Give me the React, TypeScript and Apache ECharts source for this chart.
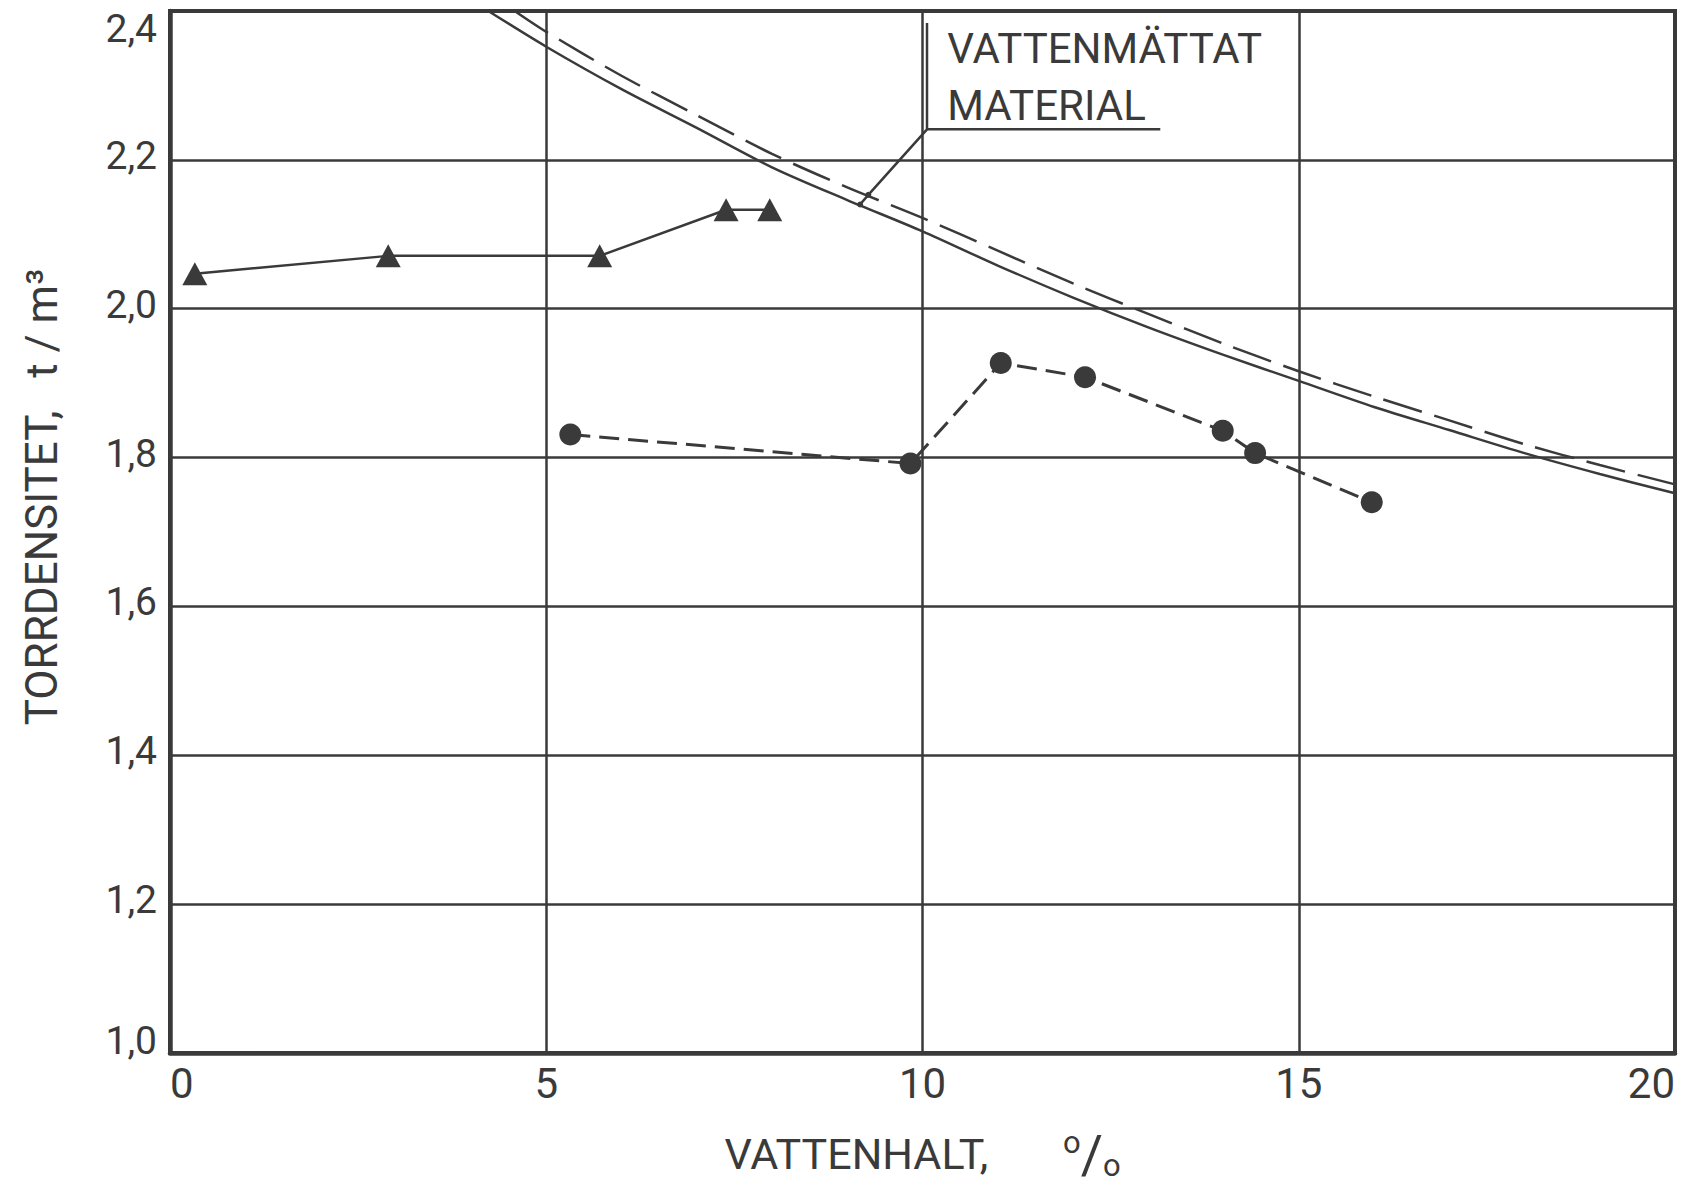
import React, { useEffect, useRef } from 'react';
import * as echarts from 'echarts';

// ---- data ----
const xMin = 0;
const xMax = 20;
const xInterval = 5;
const yMin = 1.0;
const yMax = 2.4;
const yInterval = 0.2;

// triangles, solid line
const triangleData: number[][] = [
  [0.33, 2.047],
  [2.9, 2.071],
  [5.71, 2.071],
  [7.39, 2.133],
  [7.97, 2.133],
];

// circles, dashed line
const circleData: number[][] = [
  [5.32, 1.831],
  [9.84, 1.792],
  [11.04, 1.927],
  [12.16, 1.908],
  [13.99, 1.836],
  [14.42, 1.806],
  [15.97, 1.74],
];

// water-saturated material curves
const satSolid: number[][] = [
  [4.23, 2.4],
  [5, 2.352],
  [6, 2.295],
  [7, 2.243],
  [8, 2.19],
  [9, 2.146],
  [10, 2.104],
  [11, 2.058],
  [12, 2.015],
  [13, 1.975],
  [14, 1.938],
  [15, 1.903],
  [16, 1.868],
  [17, 1.837],
  [18, 1.806],
  [19, 1.778],
  [20, 1.752],
];
const satDashed: number[][] = [
  [4.58, 2.4],
  [5, 2.372],
  [6, 2.313],
  [7, 2.26],
  [8, 2.208],
  [9, 2.163],
  [10, 2.122],
  [11, 2.078],
  [12, 2.034],
  [13, 1.993],
  [14, 1.953],
  [15, 1.916],
  [16, 1.882],
  [17, 1.85],
  [18, 1.818],
  [19, 1.79],
  [20, 1.764],
];

// annotation "VATTENMÄTTAT MATERIAL"
const annoLines = ['VATTENMÄTTAT', 'MATERIAL'];
const annoTextPos: number[][] = [
  [10.33, 2.35],
  [10.33, 2.273],
];
const annoBracket: number[][] = [
  [10.06, 2.384],
  [10.06, 2.241],
  [13.16, 2.241],
];
const annoLeader: number[][] = [
  [10.06, 2.241],
  [9.28, 2.153],
  [9.17, 2.14],
];

const xTitle = 'VATTENHALT,';
const yTitle = 'TORRDENSITET,   t / m³';

const INK = '#3a3a3a';
const FONT = 'Roboto, "DejaVu Sans", sans-serif';

export default function App() {
  const ref = useRef<HTMLDivElement>(null);

  useEffect(() => {
    document.body.style.margin = '0';
    if (!ref.current) return;
    const chart = echarts.init(ref.current, undefined, { renderer: 'svg' });

    const option: any = {
      animation: false,
      backgroundColor: '#ffffff',
      textStyle: { fontFamily: FONT, color: INK },
      grid: {
        left: 170,
        right: 22,
        top: 11,
        bottom: 122,
        show: true,
        borderColor: INK,
        borderWidth: 4,
        containLabel: false,
      },
      xAxis: {
        type: 'value',
        min: xMin,
        max: xMax,
        interval: xInterval,
        axisLine: { show: true, lineStyle: { color: INK, width: 4.5 } },
        axisTick: { show: false },
        splitLine: { show: true, lineStyle: { color: INK, width: 2.5 } },
        axisLabel: {
          color: INK,
          fontFamily: FONT,
          fontSize: 42,
          margin: 9,
          alignMinLabel: 'left',
          alignMaxLabel: 'right',
        },
        name: xTitle + '       {sup|o}{sl|/}{sub|o}',
        nameLocation: 'middle',
        nameGap: 74,
        nameTextStyle: {
          color: INK,
          fontFamily: FONT,
          fontSize: 43,
          rich: {
            sup: { fontSize: 31, color: INK, fontFamily: FONT, verticalAlign: 'top', lineHeight: 50 },
            sl: { fontSize: 54, color: INK, fontFamily: FONT },
            sub: { fontSize: 31, color: INK, fontFamily: FONT, verticalAlign: 'bottom', lineHeight: 42 },
          },
        },
      },
      yAxis: {
        type: 'value',
        min: yMin,
        max: yMax,
        interval: yInterval,
        axisLine: { show: true, lineStyle: { color: INK, width: 4.5 } },
        axisTick: { show: false },
        splitLine: { show: true, lineStyle: { color: INK, width: 2.5 } },
        axisLabel: {
          color: INK,
          fontFamily: FONT,
          fontSize: 39,
          margin: 13,
          formatter: (v: number) => {
            const s = v.toFixed(1).replace('.', ',');
            if (Math.abs(v - yMax) < 1e-6) return '{top|' + s + '}';
            if (Math.abs(v - yMin) < 1e-6) return '{bot|' + s + '}';
            return '{mid|' + s + '}';
          },
          rich: {
            top: { fontSize: 39, color: INK, fontFamily: FONT, padding: [36, 0, 0, 0] },
            bot: { fontSize: 39, color: INK, fontFamily: FONT, padding: [0, 0, 24, 0] },
            mid: { fontSize: 39, color: INK, fontFamily: FONT, padding: [0, 0, 8, 0] },
          },
        },
        name: yTitle,
        nameLocation: 'middle',
        nameRotate: 90,
        nameGap: 106,
        nameTextStyle: {
          color: INK,
          fontFamily: FONT,
          fontSize: 44,
          padding: [0, 0, 0, 70],
        },
      },
      series: [
        {
          name: 'triangles',
          type: 'line',
          data: triangleData,
          symbol: 'triangle',
          symbolSize: [25, 23],
          itemStyle: { color: INK },
          lineStyle: { color: INK, width: 2.5 },
          z: 5,
        },
        {
          name: 'circles',
          type: 'line',
          data: circleData,
          symbol: 'circle',
          symbolSize: 22,
          itemStyle: { color: INK },
          lineStyle: { color: INK, width: 3, type: [20, 9] },
          z: 5,
        },
        {
          name: 'saturated solid',
          type: 'line',
          data: satSolid,
          smooth: 0.3,
          showSymbol: false,
          symbol: 'none',
          lineStyle: { color: INK, width: 2.5 },
          z: 4,
        },
        {
          name: 'saturated dashed',
          type: 'line',
          data: satDashed,
          smooth: 0.3,
          showSymbol: false,
          symbol: 'none',
          lineStyle: { color: INK, width: 2.5, type: [40, 13] },
          z: 4,
        },
        {
          name: 'bracket',
          type: 'line',
          data: annoBracket,
          symbol: 'none',
          lineStyle: { color: INK, width: 2.5 },
          z: 6,
        },
        {
          name: 'leader',
          type: 'line',
          data: annoLeader,
          symbol: 'circle',
          symbolSize: (_v: any, p: any) => (p.dataIndex === 0 ? 0 : 6),
          itemStyle: { color: INK },
          lineStyle: { color: INK, width: 2.5 },
          z: 6,
        },
      ],
    };

    chart.setOption(option);

    const graphics = annoLines.map((t, i) => {
      const p = chart.convertToPixel({ gridIndex: 0 }, annoTextPos[i]) as number[];
      return {
        type: 'text',
        x: p[0],
        y: p[1],
        style: {
          text: t,
          fontFamily: FONT,
          fontSize: 42,
          fill: INK,
          textAlign: 'left',
          textVerticalAlign: 'middle',
        },
        z: 10,
      };
    });
    chart.setOption({ graphic: graphics });

    return () => {
      chart.dispose();
    };
  }, []);

  return <div ref={ref} style={{ width: 1697, height: 1186 }} />;
}
